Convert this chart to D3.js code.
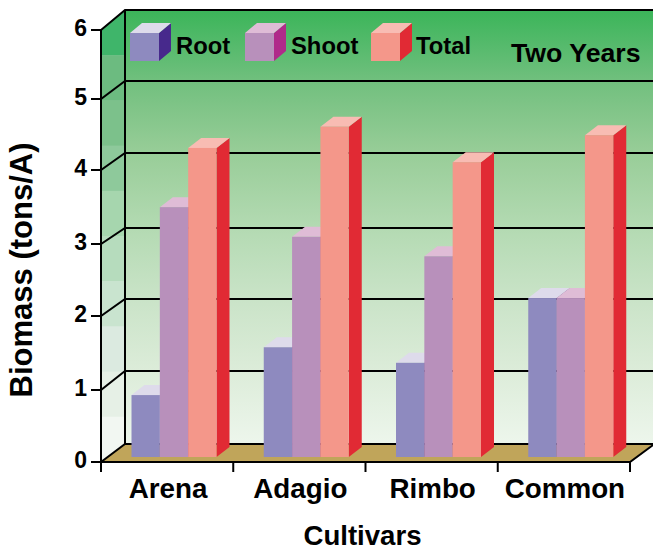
<!DOCTYPE html>
<html>
<head>
<meta charset="utf-8">
<script src="https://cdn.jsdelivr.net/npm/d3@7"></script>
<style>
    html, body { margin: 0; padding: 0; background: #fff; }
    svg { display: block; }
    text { font-family: "Liberation Sans", Arial, sans-serif; font-weight: bold; fill: #000; }
</style>
</head>
<body>
<svg id="chart" width="653" height="548"></svg>
<script>
    const cultivars = ["Arena", "Adagio", "Rimbo", "Common"];
    const seriesNames = ["Root", "Shoot", "Total"];
    const root = [0.86, 1.51, 1.30, 2.18];
    const shoot = [3.43, 3.03, 2.76, 2.18];
    const total = [4.24, 4.54, 4.04, 4.42];
    const yTicks = [0, 1, 2, 3, 4, 5, 6];

    const frontColors = ["#8e8abf", "#b890bb", "#f4978a"];
    const topColors = ["#dedbeb", "#dfbcd6", "#f8bcb3"];
    const sideColors = ["#47298c", "#b02a8a", "#e12a34"];
    const sideWallBands = ["#3fb56a", "#6cbb80", "#7cc18b", "#8ec99b", "#a6d6ae", "#b6dcbd", "#c9e4cf", "#dbeae0", "#e6f0e6", "#f2f7f2"];

    const chartW = 653;
    const plotL = 101, plotR = 630;
    const depthX = 24;
    const barDepthX = 13, barDepthY = 10;  // bar depth
    const barInsetY = 5;                   // bars stand a bit behind the front edge

    // the original axis is hand drawn, ticks are not quite evenly spaced
    const frontTickY = [462, 390, 316, 244, 170, 99, 30];
    const backTickY = [444, 371, 299, 228, 153, 81, 10];
    const plotB = frontTickY[0], plotT = frontTickY[6];
    const backB = backTickY[0], backT = backTickY[6];

    const svg = d3.select("#chart");

    const x = d3.scaleBand().domain(cultivars).range([plotL, plotR]);
    const y = d3.scaleLinear().domain(yTicks).range(frontTickY);
    const yBack = d3.scaleLinear().domain(yTicks).range(backTickY);
    const barX = d3.scaleBand().domain(seriesNames).range([30.5, 115.5]);

    const path = pts => "M" + pts.map(p => p.join(",")).join("L") + "Z";

    // back wall gradient
    const grad = svg.append("defs").append("linearGradient")
        .attr("id", "wall").attr("x1", 0).attr("y1", 0).attr("x2", 0).attr("y2", 1);
    [[0, "#3bb559"], [0.08, "#55ba6c"], [0.17, "#73c07f"], [0.33, "#98cd98"], [0.5, "#b3dab2"], [0.66, "#c9e3c7"], [0.83, "#dcecd9"], [1, "#edf6ec"]]
        .forEach(s => grad.append("stop").attr("offset", s[0]).attr("stop-color", s[1]));

    svg.append("rect")
        .attr("x", plotL + depthX).attr("y", backT)
        .attr("width", chartW - plotL - depthX).attr("height", backB - backT)
        .attr("fill", "url(#wall)");

    // side wall, stepped bands
    svg.append("clipPath").attr("id", "sideClip").append("path")
        .attr("d", path([[plotL, plotT], [plotL + depthX, backT], [plotL + depthX, backB], [plotL, plotB]]));
    const bandH = (plotB - backT) / sideWallBands.length;
    svg.append("g").attr("clip-path", "url(#sideClip)")
        .selectAll("rect").data(sideWallBands).join("rect")
        .attr("x", plotL).attr("width", depthX)
        .attr("y", (d, i) => backT + i * bandH)
        .attr("height", bandH + 0.5)
        .attr("fill", d => d);

    // floor
    svg.append("path")
        .attr("d", path([[plotL, plotB], [plotL + depthX, backB], [chartW, backB], [plotR, plotB]]))
        .attr("fill", "#c0a55a");

    // grid
    const grid = svg.append("g").attr("stroke", "#000").attr("stroke-width", 2).attr("fill", "none");
    yTicks.forEach(t => {
        grid.append("path").attr("d", `M${plotL - 10},${y(t)}L${plotL},${y(t)}L${plotL + depthX},${yBack(t)}L${chartW},${yBack(t)}`);
    });
    grid.append("path").attr("d", `M${plotL + depthX},${backT}V${backB}`);
    grid.append("path").attr("d", `M${plotL},${plotT}V${plotB}H${plotR}L${chartW},${backB + 1}`);
    x.domain().concat("end").forEach((c, i) => {
        const tx = plotL + i * x.bandwidth();
        grid.append("path").attr("d", `M${tx},${plotB}v10`);
    });

    // bars
    const bars = svg.append("g");
    const base = plotB - barInsetY;
    cultivars.forEach((c, i) => {
        [root, shoot, total].forEach((vals, s) => {
            const x0 = x(c) + barX(seriesNames[s]);
            const x1 = x0 + barX.bandwidth();
            const yTop = y(vals[i]) - barInsetY;
            bars.append("path")
                .attr("d", path([[x1, yTop], [x1 + barDepthX, yTop - barDepthY], [x1 + barDepthX, base - barDepthY], [x1, base]]))
                .attr("fill", sideColors[s]);
            bars.append("path")
                .attr("d", path([[x0, yTop], [x0 + barDepthX, yTop - barDepthY], [x1 + barDepthX, yTop - barDepthY], [x1, yTop]]))
                .attr("fill", topColors[s]);
            bars.append("rect")
                .attr("x", x0).attr("y", yTop)
                .attr("width", barX.bandwidth()).attr("height", base - yTop)
                .attr("fill", frontColors[s]);
        });
    });

    // legend
    const legendX = [130, 245, 371];
    const legendLabelX = [176, 291, 416];
    seriesNames.forEach((name, s) => {
        const g = svg.append("g");
        const lx = legendX[s], ly = 33, w = 29, h = 28, dx = 12, dy = 10;
        g.append("path").attr("d", path([[lx + w, ly], [lx + w + dx, ly - dy], [lx + w + dx, ly + h - dy], [lx + w, ly + h]])).attr("fill", sideColors[s]);
        g.append("path").attr("d", path([[lx, ly], [lx + dx, ly - dy], [lx + w + dx, ly - dy], [lx + w, ly]])).attr("fill", topColors[s]);
        g.append("rect").attr("x", lx).attr("y", ly).attr("width", w).attr("height", h).attr("fill", frontColors[s]);
        g.append("text").attr("x", legendLabelX[s]).attr("y", 54).attr("font-size", 23.8).text(name);
    });

    svg.append("text").attr("x", 511).attr("y", 62).attr("font-size", 26.7).text("Two Years");

    // tick labels
    svg.append("g").selectAll("text").data(yTicks).join("text")
        .attr("x", 87).attr("y", d => y(d) + 6)
        .attr("text-anchor", "end").attr("font-size", 23).text(d => d);

    svg.append("g").selectAll("text").data(cultivars).join("text")
        .attr("x", c => x(c) + x.bandwidth() / 2 + 1).attr("y", 498)
        .attr("text-anchor", "middle").attr("font-size", 27.8).text(c => c);

    svg.append("text").attr("x", 362.5).attr("y", 545)
        .attr("text-anchor", "middle").attr("font-size", 27.6).text("Cultivars");

    svg.append("text").attr("transform", "translate(32,270) rotate(-90)")
        .attr("text-anchor", "middle").attr("font-size", 31).text("Biomass (tons/A)");
</script>
</body>
</html>
